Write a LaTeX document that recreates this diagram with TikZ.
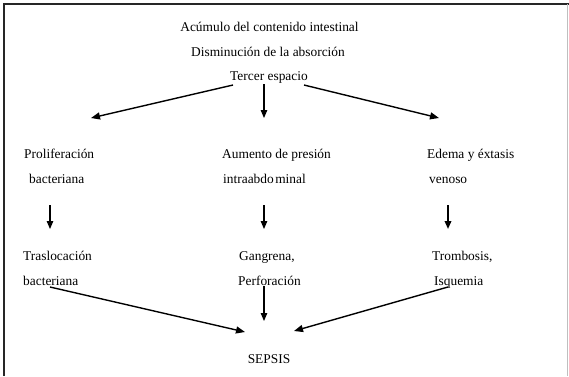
\documentclass[tikz,border=0pt]{standalone}
\usepackage{fontspec}
\setmainfont{Liberation Serif}
\usetikzlibrary{arrows.meta}
\begin{document}
\begin{tikzpicture}[x=1pt,y=-1pt,
  lbl/.style={anchor=base west, inner sep=0pt, font=\fontsize{13.4}{16}\selectfont},
  clbl/.style={lbl, anchor=base},
  flow/.style={-{Triangle[length=9pt,width=7pt]}, line width=1.4pt},
  drop/.style={-{Triangle[length=8pt,width=6.5pt]}, line width=1.1pt}]
\useasboundingbox (0,0) rectangle (569,376);
% frame
\draw[line width=2pt, black!85] (4,376) -- (4,4) -- (569,4);
\draw[line width=1pt, black!25] (567.5,4) -- (567.5,376);

% heading
\node[clbl] (t1) at (269.5,31) {Acúmulo del contenido intestinal};
\node[clbl] (t2) at (268,56) {Disminución de la absorción};
\node[clbl] (t3) at (269,80) {Tercer espacio};

% second row
\node[lbl] (p1) at (24,158) {Proliferación};
\node[lbl] (p2) at (29,183) {bacteriana};
\node[lbl] (m1) at (222,158) {Aumento de presión};
\node[lbl] (m2) at (223,183) {intraabdo\kern1.5pt minal};
\node[lbl] (r1) at (427,158) {Edema y éxtasis};
\node[lbl] (r2) at (429,183) {venoso};

% third row
\node[lbl] (q1) at (23,260) {Traslocación};
\node[lbl] (q2) at (23,285) {bacteriana};
\node[lbl] (g1) at (239,260) {Gangrena,};
\node[lbl] (g2) at (238,285) {Perforación};
\node[lbl] (h1) at (432,260) {Trombosis,};
\node[lbl] (h2) at (434,285) {Isquemia};

\node[clbl] (sep) at (269,363) {SEPSIS};

% connector ends
\coordinate (ta) at (233,85);
\coordinate (tb) at (264,84);
\coordinate (tc) at (304,85);
\coordinate (pa) at (91,118);
\coordinate (pb) at (264,118);
\coordinate (pc) at (439,118);
\coordinate (da) at (50,205);
\coordinate (db) at (264,205);
\coordinate (dc) at (448,205);
\coordinate (ea) at (50,229);
\coordinate (eb) at (264,229);
\coordinate (ec) at (448,229);
\coordinate (sa) at (50,287);
\coordinate (sb) at (264,286);
\coordinate (sc) at (448,287);
\coordinate (xa) at (245,332);
\coordinate (xb) at (264,321);
\coordinate (xc) at (294,331);

\draw[flow] (ta) -- (pa);
\draw[drop] (tb) -- (pb);
\draw[flow] (tc) -- (pc);

\draw[drop] (da) -- (ea);
\draw[drop] (db) -- (eb);
\draw[drop, line width=1.8pt] (dc) -- (ec);

\draw[flow] (sa) -- (xa);
\draw[drop] (sb) -- (xb);
\draw[flow] (sc) -- (xc);
\end{tikzpicture}
\end{document}
